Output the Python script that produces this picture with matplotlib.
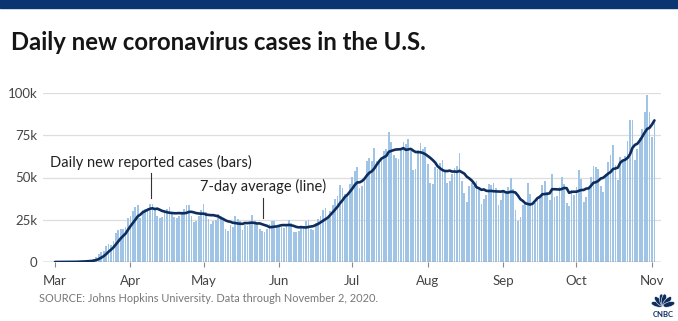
import math
import matplotlib
matplotlib.use("Agg")
import matplotlib.pyplot as plt
import matplotlib.dates as mdates
from matplotlib.patches import Ellipse
import pandas as pd

# daily new cases, thousands
mar = [0.0, 0.02, 0.02, 0.03, 0.07, 0.07, 0.1, 0.1, 0.15, 0.3, 0.4, 0.5, 0.6, 0.7, 0.9, 0.9,
       1.8, 2.9, 4.6, 6.1, 6.8, 9.4, 10.9, 10.2, 12.2, 17.0, 18.8, 19.4, 19.4, 20.9, 26.1]
apr = [27.0, 30.0, 32.5, 33.5, 26.0, 30.5, 31.5, 32.0, 34.5, 34.5, 30.5, 27.5, 26.0, 26.5, 29.5,
       31.5, 32.5, 29.5, 26.5, 26.0, 27.0, 29.0, 31.5, 34.0, 33.5, 27.0, 23.5, 24.0, 27.5, 30.5]
may = [34.5, 29.5, 25.5, 22.5, 24.0, 25.0, 28.5, 27.5, 25.5, 19.5, 18.5, 22.0, 21.0, 27.5, 25.5,
       24.5, 19.0, 22.0, 21.5, 22.5, 28.0, 24.0, 22.5, 19.5, 18.5, 18.0, 19.5, 22.5, 24.0, 24.5, 20.0]
jun = [21.5, 20.5, 20.0, 22.0, 25.0, 23.0, 17.5, 17.5, 18.5, 21.0, 21.0, 24.5, 25.0, 19.5, 19.0,
       23.0, 25.5, 27.5, 31.0, 32.0, 26.0, 30.0, 34.0, 37.5, 39.0, 45.5, 43.5, 40.0, 39.0, 46.0]
jul = [50.5, 54.0, 56.5, 44.0, 45.0, 48.5, 60.0, 61.5, 60.0, 67.5, 60.0, 59.0, 60.5, 65.5, 67.0,
       77.0, 71.0, 63.5, 61.5, 61.0, 66.5, 71.0, 70.0, 73.0, 65.5, 54.5, 55.0, 66.0, 70.5, 67.0, 68.0]
aug = [58.0, 47.0, 46.0, 56.0, 55.0, 58.5, 60.5, 54.0, 46.5, 48.0, 52.0, 55.5, 57.0, 64.5, 48.0,
       41.0, 35.5, 45.0, 47.0, 45.0, 48.0, 44.0, 34.5, 37.0, 39.5, 46.0, 45.5, 46.5, 43.5, 34.0, 36.5]
sep = [41.5, 41.0, 44.5, 50.0, 43.0, 31.0, 24.0, 26.5, 34.0, 35.0, 47.0, 40.5, 34.5, 35.0, 38.5,
       39.5, 45.5, 48.0, 41.5, 36.5, 52.0, 38.5, 39.0, 44.5, 50.5, 46.0, 35.0, 33.0, 42.5, 39.5]
oct_ = [44.5, 54.5, 49.0, 35.5, 38.5, 43.5, 50.5, 57.0, 56.5, 55.0, 45.0, 41.5, 52.0, 59.0, 63.5,
        69.0, 57.5, 48.5, 62.0, 60.5, 62.5, 71.5, 84.0, 84.0, 60.5, 67.0, 73.5, 78.5, 88.5, 99.0, 89.0]
nov = [74.0, 84.0]

y_ticks = [0, 25000, 50000, 75000, 100000]
y_labels = ["0", "25k", "50k", "75k", "100k"]

daily = pd.Series([v * 1000 for v in mar + apr + may + jun + jul + aug + sep + oct_ + nov],
                  index=pd.date_range("2020-03-01", periods=247, freq="D"))
avg = daily.rolling(7, min_periods=1).mean()

plt.rcParams["font.family"] = ["Lato", "DejaVu Sans"]

W, H = 678, 321
fig = plt.figure(figsize=(W / 100, H / 100), dpi=100)
fig.patches.append(plt.Rectangle((0, 1 - 8 / H), 1, 8 / H, transform=fig.transFigure,
                                 color="#0b3571", zorder=0))
fig.text(11 / W, 1 - 50 / H, "Daily new coronavirus cases in the U.S.", fontsize=17.2,
         fontweight="bold", color="#151515", va="baseline", ha="left")

ax = fig.add_axes([43 / W, 1 - 262 / H, 618 / W, 169 / H])
ax.bar(daily.index, daily.values, width=0.72, color="#a0c4e6", linewidth=0, zorder=2)
ax.plot(avg.index, avg.values, color="#0d2d5e", lw=1.9, zorder=4, solid_capstyle="round")

start = daily.index[0]
ax.set_xlim(start - pd.Timedelta(days=4.9), start + pd.Timedelta(days=248.7))
ax.set_ylim(0, 100000)
ax.set_yticks(y_ticks)
ax.set_yticklabels(y_labels)
for y in y_ticks[1:]:
    ax.axhline(y, color="#dedede", lw=0.9, zorder=1)
ax.axhline(0, color="#888888", lw=1.0, zorder=3)
for s in ax.spines.values():
    s.set_visible(False)
ax.tick_params(axis="y", length=0, pad=4, labelsize=9.5, labelcolor="#444444")
ax.xaxis.set_major_locator(mdates.MonthLocator())
ax.xaxis.set_major_formatter(mdates.DateFormatter("%b"))
ax.tick_params(axis="x", length=3.5, width=0.8, color="#888888", pad=6,
               labelsize=9.5, labelcolor="#444444")

# annotations
d1 = pd.Timestamp("2020-04-09 10:00")
ax.text(d1, 58600, "Daily new reported cases (bars)", ha="center", va="center",
        fontsize=10.5, color="#222222")
ax.plot([d1, d1], [52700, 37900], color="#333333", lw=0.8, zorder=5)
d2 = pd.Timestamp("2020-05-25 10:00")
ax.text(d2, 44400, "7-day average (line)", ha="center", va="center", fontsize=10.5,
        color="#222222")
ax.plot([d2, d2], [37900, 26000], color="#333333", lw=0.8, zorder=5)

fig.text(39 / W, 1 - 298 / H, "SOURCE: Johns Hopkins University. Data through November 2, 2020.",
         fontsize=7.9, color="#777777", va="center", ha="left")

# small peacock logo
lx = fig.add_axes([648 / W, 0, 30 / W, 30 / H])
lx.set_xlim(-1.5, 1.5)
lx.set_ylim(-1.3, 1.7)
lx.set_aspect("equal")
lx.axis("off")
for a in [165, 132, 99, 81, 48, 15]:
    r = math.radians(a)
    lx.add_patch(Ellipse((0.62 * math.cos(r), 0.2 + 0.62 * math.sin(r)), 1.2, 0.5, angle=a,
                         facecolor="#0d2d5e", edgecolor="white", lw=0.4))
lx.text(0, -0.65, "CNBC", ha="center", va="center", fontsize=5.5, fontweight="bold",
        color="#0d2d5e")

fig.savefig("out.png", dpi=100)
